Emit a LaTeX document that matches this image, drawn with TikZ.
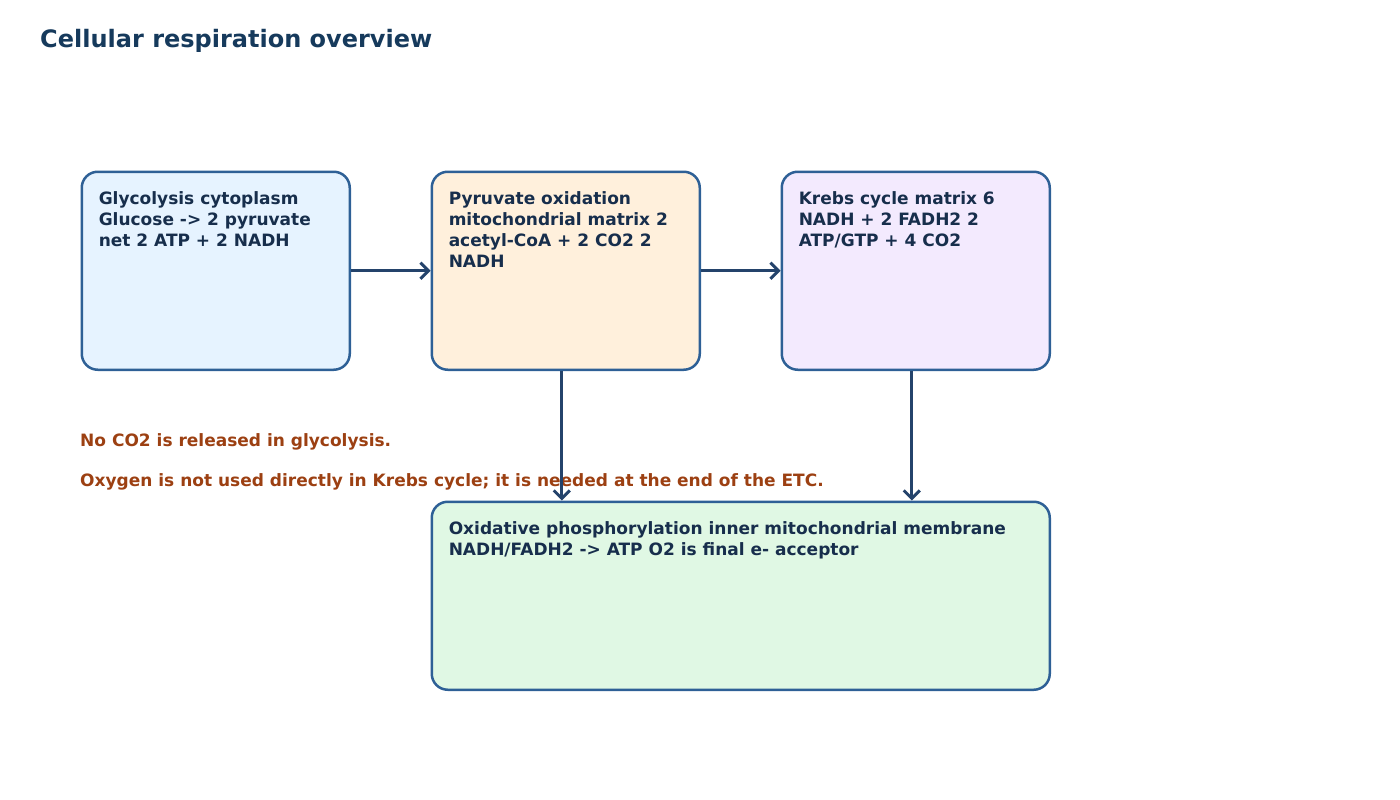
\documentclass[tikz,border=0pt]{standalone}
\usepackage{fontspec}
\setmainfont{DejaVu Sans}
\usetikzlibrary{arrows.meta,calc,positioning}
\definecolor{StageEdge}{RGB}{46,96,150}
\definecolor{FlowNavy}{RGB}{36,67,107}
\definecolor{InkBlue}{RGB}{23,46,76}
\definecolor{TitleBlue}{RGB}{22,58,92}
\definecolor{NoteRust}{RGB}{156,64,18}
\definecolor{GlycoFill}{RGB}{230,243,255}
\definecolor{PyruFill}{RGB}{255,240,220}
\definecolor{KrebsFill}{RGB}{243,234,254}
\definecolor{OxphosFill}{RGB}{224,248,228}
\newcommand{\stagetext}[3]{%
  \parbox[c][#1][t]{#2}{\raggedright\rule{0pt}{33pt}#3}}
\tikzset{
  stagebox/.style={draw=StageEdge,line width=2.5pt,rounded corners=16pt,
    anchor=north west,inner xsep=17pt,inner ysep=0pt,text=InkBlue,
    font=\bfseries\fontsize{17pt}{21pt}\selectfont},
  flow/.style={-{Straight Barb[length=8pt,width=16pt]},line width=3pt,FlowNavy},
  note/.style={anchor=base west,inner sep=0pt,text=NoteRust,
    font=\bfseries\fontsize{17pt}{21pt}\selectfont}
}

\begin{document}
\begin{tikzpicture}[x=1pt,y=-1pt]
  \useasboundingbox (0,0) rectangle (1400,800);
  \node[anchor=base west,inner sep=0pt,text=TitleBlue,
    font=\bfseries\fontsize{24pt}{28pt}\selectfont] (title) at (40,48)
    {Cellular respiration overview};
  \node[stagebox,fill=GlycoFill] (glyco) at (80.5,170.5)
    {\stagetext{198pt}{234pt}{Glycolysis cytoplasm\\Glucose -> 2 pyruvate\\net 2 ATP + 2 NADH}};
  \node[stagebox,fill=PyruFill] (pyru) at (430.5,170.5)
    {\stagetext{198pt}{234pt}{Pyruvate oxidation\\mitochondrial matrix 2\\acetyl-CoA + 2 CO2 2\\NADH}};
  \node[stagebox,fill=KrebsFill] (krebs) at (780.5,170.5)
    {\stagetext{198pt}{234pt}{Krebs cycle matrix 6\\NADH + 2 FADH2 2\\ATP/GTP + 4 CO2}};
  \node[stagebox,fill=OxphosFill] (oxphos) at (430.5,500.5)
    {\stagetext{188pt}{584pt}{Oxidative phosphorylation inner mitochondrial membrane\\NADH/FADH2 -> ATP O2 is final e- acceptor}};
  \node[note] (noteco2) at (80,446) {No CO2 is released in glycolysis.};
  \node[note] (noteoxy) at (80,486)
    {Oxygen is not used directly in Krebs cycle; it is needed at the end of the ETC.};
  \draw[flow] (glyco.east) -- (pyru.west);
  \draw[flow] (pyru.east) -- (krebs.west);
  \draw[flow] ([xshift=-4pt]pyru.south) -- ([xshift=-4pt]pyru.south |- oxphos.north);
  \draw[flow] ([xshift=-4pt]krebs.south) -- ([xshift=-4pt]krebs.south |- oxphos.north);
\end{tikzpicture}
\end{document}
